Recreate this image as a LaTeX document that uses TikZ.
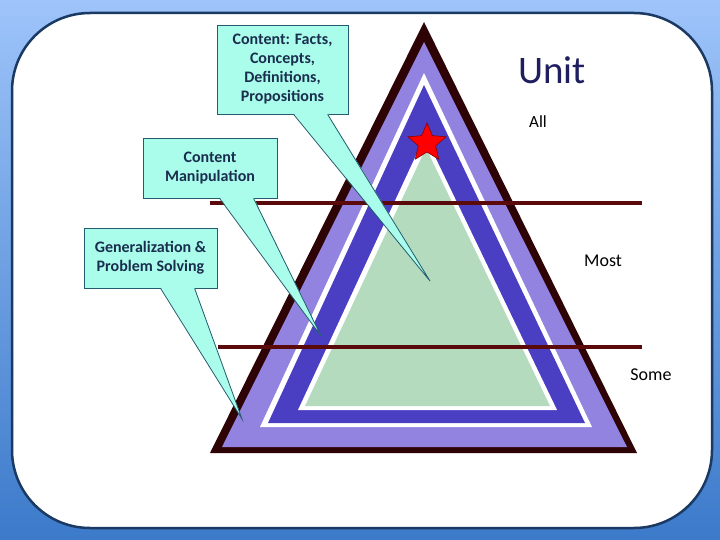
\documentclass[tikz,border=0pt]{standalone}
\usepackage{fontspec}
\setmainfont{Carlito}
\usetikzlibrary{shapes.geometric}

\definecolor{bgtop}{HTML}{9EC4FA}
\definecolor{bgbot}{HTML}{3C7ACA}
\definecolor{frameline}{HTML}{1B3A63}
\definecolor{tridark}{HTML}{2E0305}
\definecolor{trilight}{HTML}{9183DF}
\definecolor{triblue}{HTML}{4A3EC3}
\definecolor{trigreen}{HTML}{B5DBBE}
\definecolor{levelline}{HTML}{5A0A0A}
\definecolor{bubblefill}{HTML}{A9FDEA}
\definecolor{bubbleline}{HTML}{235C6E}
\definecolor{bubbletext}{HTML}{1B2D4F}
\definecolor{unitblue}{HTML}{1F1F5F}

\tikzset{
  bubble/.style={fill=bubblefill,draw=bubbleline,line width=0.8pt,align=center,
    font=\fontsize{16}{19}\selectfont\bfseries,text=bubbletext,inner sep=0pt},
  bubbletail/.style={draw=bubbleline,line width=0.8pt,line join=miter},
  level/.style={levelline,line width=3.5pt},
  tag/.style={font=\fontsize{#1}{#1}\selectfont,text=black,inner sep=0pt},
}

\begin{document}
\begin{tikzpicture}[x=1pt,y=-1pt]
  \useasboundingbox (0,0) rectangle (720,540);
  \shade[top color=bgtop,bottom color=bgbot] (0,0) rectangle (720,540);
  \draw[frameline,line width=2.5pt,fill=white,rounded corners=78pt] (12,13) rectangle (712,528);

  % nested triangles, outside in
  \foreach \c/\ax/\ay/\l/\r/\b in {
      tridark/424/22/210/637/453,
      trilight/424/42/222/627/447,
      white/424/73/260/592/427,
      triblue/424/85/268/585/423,
      white/425/136/298/557/410,
      trigreen/426/148/305/550/406}
    \fill[\c] (\ax,\ay) -- (\r,\b) -- (\l,\b) -- cycle;

  \node[star,star points=5,star point ratio=2.2,minimum size=40pt,inner sep=0pt,
        fill=red,draw=red!55!black,line width=0.6pt] (star) at (427,143) {};

  \draw[level] (210,203) -- (642,203);
  \draw[level] (218,347) -- (642,347);

  \node[text=unitblue,font=\fontsize{39}{44}\selectfont,inner sep=0pt] (unit) at (552,70.5) {Unit};
  \node[tag=17] (all) at (538,122) {All};
  \node[tag=18] (most) at (603,261) {Most};
  \node[tag=18] (some) at (651,374.5) {Some};

  % callouts
  \coordinate (tipfacts) at (430,281);
  \coordinate (tipmanip) at (321,336);
  \coordinate (tipgen) at (242,419);
  \foreach \n/\x/\y/\w/\h/\t in {
      facts/282.5/69.5/131/89/{Content: Facts,\\Concepts,\\Definitions,\\Propositions},
      manip/210/168/134/60/{Content\\Manipulation},
      gen/150.5/258/133/60/{Generalization \&\\Problem Solving}}
  {
    \node[bubble,minimum width=\w pt,minimum height=\h pt] (\n) at (\x,\y) {\t};
    \fill[bubblefill] ([xshift=77pt,yshift=1pt]\n.south west) -- (tip\n)
      -- ([xshift=111pt,yshift=1pt]\n.south west) -- cycle;
    \draw[bubbletail] ([xshift=77pt]\n.south west) -- (tip\n) -- ([xshift=111pt]\n.south west);
  }
\end{tikzpicture}
\end{document}
